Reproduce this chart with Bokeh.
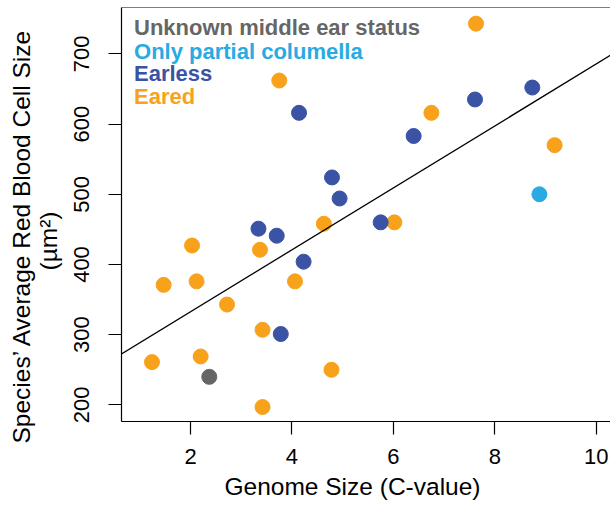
from bokeh.plotting import figure
from bokeh.layouts import row
from bokeh.models import Range1d, FixedTicker, Span, Slope, Label, Title
from bokeh.embed import file_html
from bokeh.resources import INLINE

# ---- data ----
eared_x = [1.24, 1.47, 2.03, 2.12, 2.20, 2.72, 3.37, 3.42, 3.42, 3.75, 4.06, 4.63, 4.78, 6.02, 6.75, 7.63, 9.18]
eared_y = [261, 371, 427, 376, 269, 343, 421, 307, 197, 662, 376, 458, 250, 460, 616, 743, 570]
earless_x = [3.34, 3.70, 3.78, 4.14, 4.23, 4.79, 4.94, 5.75, 6.40, 7.61, 8.74]
earless_y = [451, 441, 301, 616, 404, 524, 494, 460, 583, 635, 652]
partial_x = [8.88]
partial_y = [500]
unknown_x = [2.37]
unknown_y = [240]

fit_intercept = 244.5
fit_slope = 44.1

x_ticks = [2, 4, 6, 8, 10]
y_ticks = [200, 300, 400, 500, 600, 700]

legend_labels = ["Unknown middle ear status", "Only partial columella", "Earless", "Eared"]
x_title = "Genome Size (C-value)"
y_title = "Species’ Average Red Blood Cell Size"
y_title_unit = "(µm²)"

C_UNKNOWN = "#666666"
C_PARTIAL = "#29abe2"
C_EARLESS = "#3a53a4"
C_EARED = "#f8a21c"
legend_colors = [C_UNKNOWN, C_PARTIAL, C_EARLESS, C_EARED]

FONT = "Liberation Sans"
Y_TOP = 766.0
LEFT_W = 66

# ---- main plot ----
p = figure(width=610 - LEFT_W, height=505, output_backend="svg", toolbar_location=None,
           x_range=Range1d(0.639, 10.282), y_range=Range1d(176.4, Y_TOP),
           min_border_left=121 - LEFT_W, min_border_right=0, min_border_top=7, min_border_bottom=84)
p.outline_line_color = None
p.grid.visible = False
p.background_fill_color = "white"
p.border_fill_color = "white"

for ax in (p.xaxis[0], p.yaxis[0]):
    ax.major_tick_out = 13
    ax.major_tick_in = 0
    ax.minor_tick_out = 0
    ax.minor_tick_in = 0
    ax.axis_line_color = "black"
    ax.axis_line_width = 1.2
    ax.major_tick_line_color = "black"
    ax.major_tick_line_width = 1.2
    ax.major_label_text_font = FONT
    ax.major_label_text_font_size = "22px"
    ax.major_label_text_color = "black"

p.xaxis[0].major_label_standoff = 14
p.yaxis[0].major_label_standoff = 19
p.xaxis[0].ticker = FixedTicker(ticks=x_ticks)
p.yaxis[0].ticker = FixedTicker(ticks=y_ticks)
p.yaxis[0].major_label_orientation = "vertical"

# top border line of the box
p.add_layout(Span(location=Y_TOP, dimension="width", line_color="black", line_width=1.2))

# regression line
p.add_layout(Slope(gradient=fit_slope, y_intercept=fit_intercept, line_color="black", line_width=1.3))

# points
p.scatter(eared_x, eared_y, size=15, color=C_EARED)
p.scatter(earless_x, earless_y, size=15, color=C_EARLESS)
p.scatter(partial_x, partial_y, size=15, color=C_PARTIAL)
p.scatter(unknown_x, unknown_y, size=15, color=C_UNKNOWN)

# legend text
legend_y = [737.0, 703.7, 672.0, 638.8]
for txt, col, yy in zip(legend_labels, legend_colors, legend_y):
    p.add_layout(Label(x=0.886, y=yy, text=txt, text_color=col, text_font=FONT,
                       text_font_size="22px", text_font_style="bold",
                       text_baseline="alphabetic", text_align="left"))

# x axis title
xt = Title(text=x_title, align="left", offset=103, text_font=FONT,
           text_font_size="24.5px", text_font_style="normal", text_color="black", standoff=8)
p.add_layout(xt, "below")

# ---- narrow strip on the left; its side panel holds the two-line y axis title ----
lp = figure(width=LEFT_W, height=505, output_backend="svg", toolbar_location=None,
            x_range=Range1d(0, 1), y_range=Range1d(0, 1),
            x_axis_location=None, y_axis_location=None,
            min_border_left=LEFT_W - 3, min_border_right=0, min_border_top=7, min_border_bottom=84)
lp.outline_line_color = None
lp.grid.visible = False
lp.background_fill_color = "white"
lp.border_fill_color = "white"

yt2 = Title(text=y_title_unit, align="left", offset=151, vertical_align="top", text_font=FONT,
            text_font_size="24.5px", text_font_style="normal", text_color="black", standoff=0)
lp.add_layout(yt2, "left")
yt1 = Title(text=y_title, align="left", offset=-22, vertical_align="bottom", text_font=FONT,
            text_font_size="24.5px", text_font_style="normal", text_color="black", standoff=0)
lp.add_layout(yt1, "left")

layout = row(lp, p, spacing=0)
open("out.html", "w").write(file_html(layout, INLINE))
